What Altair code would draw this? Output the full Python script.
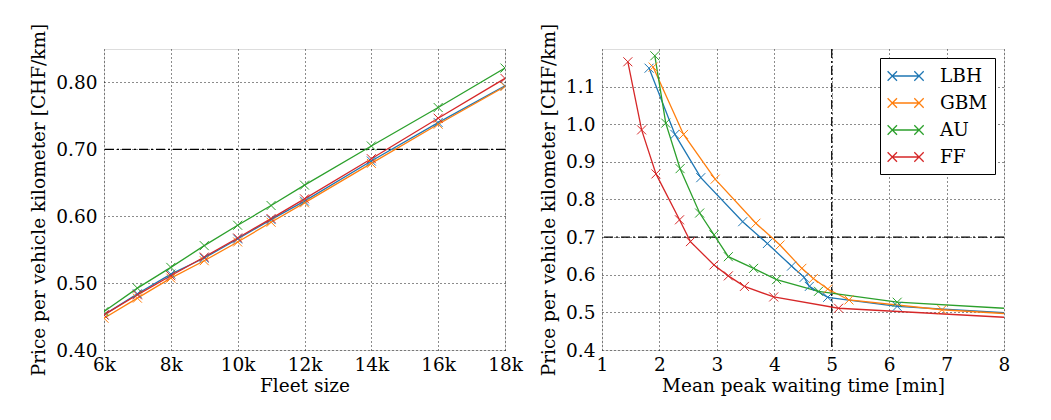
import altair as alt
import pandas as pd

# ---------------- data ----------------
algorithms = ["LBH", "GBM", "AU", "FF"]
colors = ["#1f77b4", "#ff7f0e", "#2ca02c", "#d62728"]

fleet_size = [6000, 7000, 8000, 9000, 10000, 11000, 12000, 14000, 16000, 18000]
left_LBH = [0.4525, 0.484, 0.5135, 0.5375, 0.566, 0.595, 0.6225, 0.6825, 0.740, 0.795]
left_GBM = [0.4475, 0.4775, 0.5075, 0.5335, 0.5615, 0.591, 0.620, 0.679, 0.7375, 0.794]
left_AU = [0.4575, 0.4925, 0.5235, 0.556, 0.5865, 0.616, 0.6465, 0.705, 0.7625, 0.8215]
left_FF = [0.4525, 0.4825, 0.511, 0.539, 0.5675, 0.5965, 0.626, 0.686, 0.7465, 0.806]

wait_LBH = [1.82, 2.27, 2.72, 3.45, 3.88, 4.30, 4.52, 4.61, 4.93, 6.14, 8.0]
price_LBH = [1.149, 0.973, 0.858, 0.741, 0.683, 0.623, 0.593, 0.569, 0.540, 0.516, 0.499]
wait_GBM = [1.89, 2.42, 2.97, 3.68, 4.10, 4.48, 4.68, 4.93, 5.30, 6.92, 8.0]
price_GBM = [1.152, 0.973, 0.854, 0.737, 0.679, 0.617, 0.590, 0.562, 0.533, 0.507, 0.497]
wait_AU = [1.92, 2.11, 2.36, 2.70, 2.95, 3.20, 3.64, 4.04, 4.77, 6.14, 8.0]
price_AU = [1.182, 1.003, 0.882, 0.764, 0.706, 0.648, 0.617, 0.587, 0.556, 0.527, 0.511]
wait_FF = [1.45, 1.69, 1.94, 2.35, 2.54, 2.95, 3.20, 3.48, 3.99, 5.12, 8.0]
price_FF = [1.166, 0.985, 0.868, 0.746, 0.688, 0.626, 0.597, 0.569, 0.541, 0.511, 0.487]
# the last right-panel point lies on the axes edge (line continues out of view, no marker)
right_marker = [True] * 10 + [False]

price_limit = 0.70
wait_limit = 5

left_yticks = [0.40, 0.45, 0.50, 0.55, 0.60, 0.65, 0.70, 0.75, 0.80]
left_xticks = [6000, 8000, 10000, 12000, 14000, 16000, 18000]
right_yticks = [0.4, 0.5, 0.6, 0.7, 0.8, 0.9, 1.0, 1.1]
right_xticks = [1, 2, 3, 4, 5, 6, 7, 8]

# ---------------- tables ----------------
left_rows = []
for name, vals in zip(algorithms, [left_LBH, left_GBM, left_AU, left_FF]):
    for i, (f, p) in enumerate(zip(fleet_size, vals)):
        left_rows.append({"algo": name, "fleet": f, "price": p, "i": i})
left_df = pd.DataFrame(left_rows)

right_rows = []
for name, w, p in zip(algorithms, [wait_LBH, wait_GBM, wait_AU, wait_FF],
                      [price_LBH, price_GBM, price_AU, price_FF]):
    for i, (a, b) in enumerate(zip(w, p)):
        right_rows.append({"algo": name, "wait": a, "price": b, "i": i, "marker": right_marker[i]})
right_df = pd.DataFrame(right_rows)

FONT = "DejaVu Serif"
FS = 18.5
XPATH = "M-1,-1L1,1M-1,1L1,-1"
# legend handle: short line with an "x" at each end (drawn relative to the symbol centre)
LEGEND_PATH = ("M-0.57,0L2.1,0"
               "M-1.04,-0.47L-0.1,0.47M-1.04,0.47L-0.1,-0.47"
               "M1.63,-0.47L2.57,0.47M1.63,0.47L2.57,-0.47")
DASHDOT = [9, 3, 2, 3]
GRID = dict(grid=True, gridDash=[1, 3], gridColor="black", gridWidth=1, gridOpacity=0.9)

YTITLE = "Price per vehicle kilometer [CHF/km]"


def yaxis(ticks, fmt):
    return alt.Axis(values=ticks, title=YTITLE, format=fmt, **GRID,
                    ticks=False, domain=False, labelPadding=7, titlePadding=7,
                    labelFont=FONT, titleFont=FONT, labelFontSize=FS, titleFontSize=FS,
                    titleFontWeight="normal", labelColor="black", titleColor="black")


def xaxis(ticks, title, expr=None):
    kw = dict(values=ticks, title=title, **GRID, ticks=False, domain=False,
              labelPadding=5, titlePadding=3, format="d",
              labelFont=FONT, titleFont=FONT, labelFontSize=FS, titleFontSize=FS,
              titleFontWeight="normal", labelColor="black", titleColor="black",
              labelFlush=False)
    if expr:
        kw["labelExpr"] = expr
    return alt.Axis(**kw)


# ---------------- left panel ----------------
lx = alt.X("fleet:Q", scale=alt.Scale(domain=[6000, 18000], nice=False),
           axis=xaxis(left_xticks, "Fleet size", "format(datum.value/1000, 'd') + 'k'"))
ly = alt.Y("price:Q", scale=alt.Scale(domain=[0.40, 0.85], nice=False, zero=False),
           axis=yaxis(left_yticks, ".2f"))
lbase = alt.Chart(left_df).encode(
    x=lx, y=ly,
    color=alt.Color("algo:N", scale=alt.Scale(domain=algorithms, range=colors), legend=None),
    order=alt.Order("i:Q"),
)
left_lines = lbase.mark_line(strokeWidth=1.3, clip=True)
left_pts = lbase.mark_point(shape=XPATH, filled=False, size=81, strokeWidth=1, clip=True, opacity=1)
left_rule = alt.Chart(pd.DataFrame({"price": [price_limit]})).mark_rule(
    color="black", strokeWidth=1.2, strokeDash=DASHDOT).encode(y=alt.Y("price:Q"))
left = alt.layer(left_rule, left_lines, left_pts).properties(width=401, height=301)

# ---------------- right panel ----------------
rx = alt.X("wait:Q", scale=alt.Scale(domain=[1, 8], nice=False, zero=False),
           axis=xaxis(right_xticks, "Mean peak waiting time [min]"))
ry = alt.Y("price:Q", scale=alt.Scale(domain=[0.4, 1.2], nice=False, zero=False),
           axis=yaxis(right_yticks, ".1f"))
rbase = alt.Chart(right_df).encode(
    x=rx, y=ry,
    color=alt.Color("algo:N", scale=alt.Scale(domain=algorithms, range=colors), sort=algorithms,
                    legend=alt.Legend(title=None, orient="top-right", offset=9,
                                      fillColor="white", strokeColor="black",
                                      padding=7,
                                      labelFont=FONT, labelFontSize=FS, labelColor="black",
                                      symbolType=LEGEND_PATH, symbolSize=400,
                                      symbolStrokeWidth=1.3, symbolFillColor="transparent",
                                      labelOffset=31, rowPadding=6, cornerRadius=0)),
    order=alt.Order("i:Q"),
)
right_lines = rbase.mark_line(strokeWidth=1.3, clip=True)
right_pts = rbase.transform_filter("datum.marker").mark_point(
    shape=XPATH, filled=False, size=81, strokeWidth=1, clip=True, opacity=1)
right_hrule = alt.Chart(pd.DataFrame({"price": [price_limit]})).mark_rule(
    color="black", strokeWidth=1.2, strokeDash=DASHDOT).encode(y=alt.Y("price:Q"))
right_vrule = alt.Chart(pd.DataFrame({"wait": [wait_limit]})).mark_rule(
    color="black", strokeWidth=1.2, strokeDash=DASHDOT).encode(x=alt.X("wait:Q"))
right = alt.layer(right_hrule, right_vrule, right_lines, right_pts).properties(width=402, height=301)

chart = alt.hconcat(left, right, spacing=97, bounds="flush").resolve_scale(
    x="independent", y="independent", color="independent"
).resolve_legend(color="independent").properties(
    padding={"left": 21, "top": 14, "right": 5, "bottom": 5}
).configure_view(stroke="black", strokeWidth=1.2).configure(background="white")

chart.save("out.html", embed_options={"renderer": "svg", "actions": False})
